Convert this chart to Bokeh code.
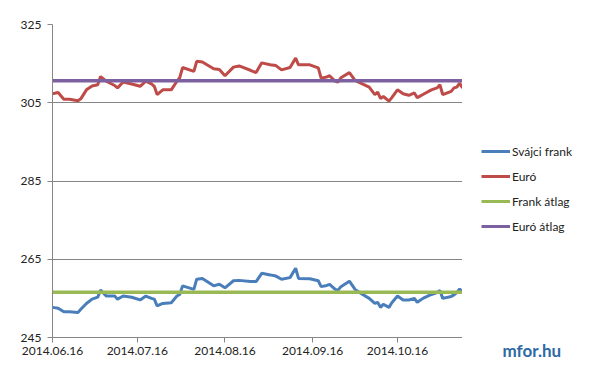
import pandas as pd
from bokeh.plotting import figure
from bokeh.layouts import row
from bokeh.models import Range1d, FixedTicker, DatetimeTickFormatter, Legend, LegendItem, Title
from bokeh.embed import file_html
from bokeh.resources import INLINE

start = pd.Timestamp("2014-06-16")
day_offsets = [0, 2, 4, 6, 9, 10, 12, 14, 16, 17, 19, 22, 23, 25, 28, 31, 33, 35, 36, 37,
               39, 42, 44, 45, 46, 50, 51, 53, 57, 59, 61, 64, 66, 70, 72, 74, 77, 79, 81, 84,
               86, 87, 91, 94, 95, 97, 98, 100, 101, 102, 105, 107, 109, 112, 114, 115, 116, 117, 119, 120,
               122, 124, 126, 128, 129, 131, 134, 136, 137, 138, 141, 142, 143, 144, 145]
dates = [start + pd.Timedelta(days=d) for d in day_offsets]

euro = [307.3, 307.6, 305.9, 305.9, 305.5, 306.0, 308.3, 309.3, 309.6, 311.7, 310.5, 309.4, 308.8, 310.3, 309.8, 309.2, 310.5, 309.8, 309.2, 307.1,
        308.3, 308.3, 310.5, 311.4, 314.0, 313.0, 315.6, 315.4, 313.7, 313.5, 311.9, 314.1, 314.4, 313.3, 312.7, 315.2, 314.7, 314.5, 313.4, 314.0,
        316.4, 314.7, 314.7, 313.9, 311.3, 311.6, 311.9, 310.5, 310.3, 311.4, 312.7, 310.7, 310.0, 309.0, 307.1, 307.7, 306.1, 306.6, 305.4, 306.3,
        308.3, 307.3, 306.9, 307.5, 306.3, 307.1, 308.3, 308.8, 309.6, 307.1, 307.9, 308.8, 309.0, 310.0, 308.8]
frank = [252.7, 252.5, 251.6, 251.6, 251.4, 252.2, 253.7, 254.8, 255.3, 257.1, 255.6, 255.6, 254.8, 255.6, 255.3, 254.6, 255.6, 255.0, 254.8, 253.1,
         253.7, 253.9, 255.6, 256.0, 258.2, 257.3, 259.9, 260.1, 258.2, 258.6, 257.7, 259.5, 259.6, 259.3, 259.3, 261.4, 261.0, 260.7, 259.9, 260.3,
         262.7, 260.1, 260.0, 259.5, 258.0, 258.3, 258.6, 257.3, 257.1, 258.0, 259.4, 257.3, 256.3, 255.0, 253.7, 254.0, 252.7, 253.5, 252.7, 253.9,
         255.6, 254.6, 254.6, 255.0, 254.0, 255.0, 256.0, 256.5, 257.0, 255.0, 255.5, 255.9, 256.5, 257.4, 256.7]
frank_avg = 256.55
euro_avg = 310.6

series_names = ["Svájci frank", "Euró", "Frank átlag", "Euró átlag"]
colors = ["#4a7ebb", "#be4b48", "#98b954", "#7d60a0"]
x_tick_labels = ["2014.06.16", "2014.07.16", "2014.08.16", "2014.09.16", "2014.10.16"]
y_ticks = [245, 265, 285, 305, 325]
logo_text = "mfor.hu"

FONT = "Lato"
GRAY = "#868686"

p = figure(frame_width=410, frame_height=313, output_backend="svg", toolbar_location=None,
           x_axis_type="datetime",
           x_range=Range1d(dates[0], dates[-1]), y_range=Range1d(245, 325),
           min_border_left=52, min_border_right=0, min_border_top=24, min_border_bottom=35)
p.outline_line_color = None
p.xgrid.grid_line_color = None
p.ygrid.grid_line_color = GRAY
p.ygrid.grid_line_width = 1

p.yaxis.ticker = FixedTicker(ticks=y_ticks)
tick_ms = [pd.Timestamp(s.replace(".", "-")).value // 10**6 for s in x_tick_labels]
p.xaxis.ticker = FixedTicker(ticks=tick_ms)
p.xaxis.formatter = DatetimeTickFormatter(days="%Y.%m.%d", months="%Y.%m.%d")

for ax in (p.xaxis, p.yaxis):
    ax.axis_line_color = GRAY
    ax.major_tick_line_color = GRAY
    ax.major_tick_out = 5
    ax.major_tick_in = 0
    ax.minor_tick_line_color = None
    ax.major_label_text_font = FONT
    ax.major_label_text_font_size = "12px"
    ax.major_label_text_color = "#222222"
p.yaxis.major_label_standoff = 6
p.xaxis.major_label_standoff = 4

series = [frank, euro, [frank_avg, frank_avg], [euro_avg, euro_avg]]
xs = [dates, dates, [dates[0], dates[-1]], [dates[0], dates[-1]]]
widths = [3, 3, 3.5, 3.5]
for x, y, c, w in zip(xs, series, colors, widths):
    p.line(x, y, line_color=c, line_width=w)

# side panel holding the legend and the logo (same series, out of its view range)
side = figure(width=138, height=372, output_backend="svg", toolbar_location=None,
              min_border=0, x_axis_location=None, y_axis_location=None,
              x_range=Range1d(0, 1), y_range=Range1d(0, 1))
side.outline_line_color = None
side.grid.visible = False
proxies = [side.line(x, y, line_color=c, line_width=3) for x, y, c in zip(xs, series, colors)]

legend = Legend(items=[LegendItem(label=n, renderers=[r]) for n, r in zip(series_names, proxies)],
                location=(19, 101), padding=0, margin=0, spacing=5,
                glyph_width=29, glyph_height=20, label_height=20, label_standoff=2,
                label_text_font=FONT, label_text_font_size="12px", label_text_color="#222222",
                border_line_color=None, background_fill_alpha=0)
side.add_layout(legend, "center")

logo = Title(text=logo_text, align="left", offset=40, standoff=0,
             text_font=FONT, text_font_size="17px", text_font_style="bold",
             text_color="#2d6aa5")
side.add_layout(logo, "below")

layout = row(p, side, spacing=0)
open("out.html", "w").write(file_html(layout, INLINE))
